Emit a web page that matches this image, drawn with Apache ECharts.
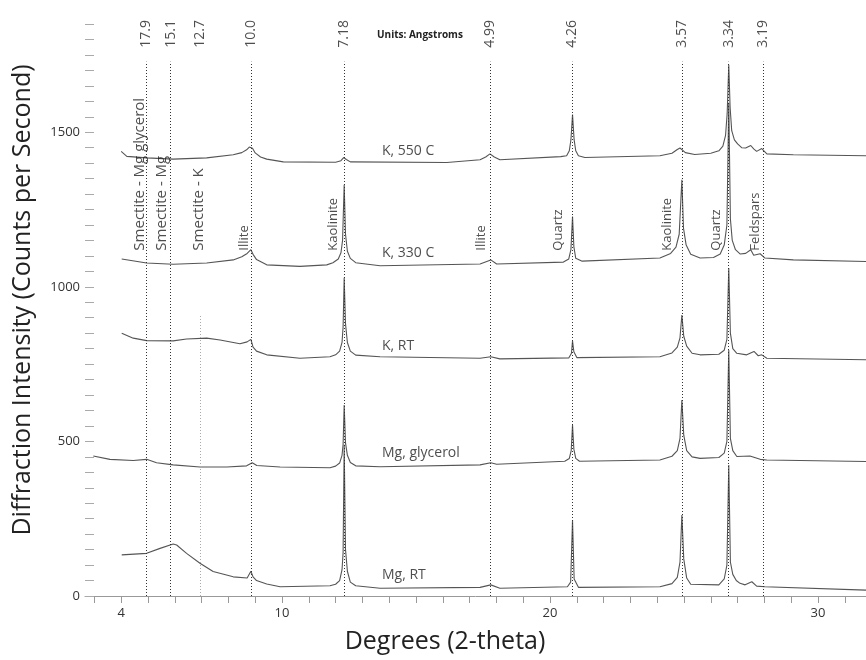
<!DOCTYPE html>
<html>
<head>
<meta charset="utf-8">
<script src="https://cdn.jsdelivr.net/npm/echarts@6/dist/echarts.min.js"></script>
<style>
  html, body { margin: 0; padding: 0; background: #fff; }
  #chart { width: 866px; height: 660px; }
</style>
</head>
<body>
<div id="chart"></div>
<script>
// X-ray diffraction patterns of an oriented clay mount under five treatments
const FONT = '"Open Sans", "DejaVu Sans", sans-serif';
const WAVELENGTH = 1.5406; // Cu K-alpha, Å

// d-spacings (Å) marked with dotted reference lines
const dSpacings = [17.9, 15.1, 12.7, 10.0, 7.18, 4.99, 4.26, 3.57, 3.34, 3.19];
const dLabels = ['17.9', '15.1', '12.7', '10.0', '7.18', '4.99', '4.26', '3.57', '3.34', '3.19'];
const lineTop = [1728, 1728, 909, 1728, 1728, 1728, 1728, 1728, 1728, 1728];
const lineFaint = [false, false, true, false, false, false, false, false, false, false];

// Mineral annotations: name and 2-theta position
const mineralNames = ['Smectite - Mg glycerol', 'Smectite - Mg', 'Smectite - K', 'Illite', 'Kaolinite',
  'Illite', 'Quartz', 'Kaolinite', 'Quartz', 'Feldspars'];
const mineralPos = [4.70, 5.52, 6.88, 8.58, 11.90, 17.43, 20.30, 24.37, 26.19, 27.65];
const mineralBase = 1117;

// Treatment names and where their captions sit
const sampleNames = ['K, 550 C', 'K, 330 C', 'K, RT', 'Mg, glycerol', 'Mg, RT'];
const sampleLabelX = 13.73;
const sampleLabelY = [1438, 1110, 807, 463, 68];

// Axis tick values
const xTickValues = [3, 4, 5, 6, 7, 8, 9, 10, 11, 12, 13, 14, 15, 16, 17, 18, 19, 20, 21, 22, 23, 24, 25, 26, 27, 28, 29, 30, 31];
const xLabelValues = [4, 10, 20, 30];
const yLabelValues = [0, 500, 1000, 1500];

// Patterns: [2-theta (deg), counts per second]
const k550 = [
  [4.00, 1438], [4.21, 1422], [4.95, 1417], [5.94, 1413], [7.19, 1417], [8.18, 1427], [8.50, 1434],
  [8.68, 1443], [8.78, 1452], [8.84, 1457], [8.90, 1448], [9.00, 1433], [9.20, 1420], [9.43, 1413],
  [10.05, 1404], [12.00, 1403], [12.20, 1408], [12.30, 1418], [12.33, 1422], [12.40, 1412], [12.55, 1404],
  [16.15, 1402], [17.39, 1411], [17.60, 1420], [17.76, 1430], [17.92, 1420], [18.13, 1411],
  [20.40, 1421], [20.62, 1424], [20.72, 1440], [20.78, 1475], [20.84, 1557], [20.90, 1475], [20.96, 1440],
  [21.06, 1424], [21.30, 1418], [24.10, 1424], [24.55, 1432], [24.75, 1444], [24.85, 1449], [24.92, 1446],
  [25.05, 1434], [25.40, 1428], [26.00, 1432], [26.30, 1440], [26.45, 1455], [26.55, 1490], [26.61, 1560],
  [26.67, 1718], [26.72, 1580], [26.78, 1505], [26.88, 1475], [27.00, 1462], [27.15, 1450], [27.30, 1449],
  [27.49, 1457], [27.60, 1446], [27.71, 1438], [27.90, 1447], [28.09, 1430], [29.08, 1427], [31.79, 1424]
];
const k330 = [
  [4.02, 1090], [4.95, 1077], [5.94, 1073], [7.19, 1077], [8.18, 1087], [8.50, 1097], [8.70, 1108],
  [8.84, 1120], [8.92, 1105], [9.05, 1088], [9.43, 1071], [10.67, 1066], [11.67, 1071], [11.90, 1078],
  [12.10, 1090], [12.20, 1110], [12.26, 1150], [12.32, 1330], [12.37, 1170], [12.44, 1115], [12.55, 1092],
  [12.75, 1078], [13.66, 1068], [17.39, 1074], [17.79, 1087], [18.01, 1074], [20.50, 1080], [20.70, 1090],
  [20.78, 1120], [20.84, 1227], [20.89, 1130], [20.96, 1092], [21.20, 1083], [24.10, 1093], [24.50, 1108],
  [24.70, 1128], [24.82, 1170], [24.92, 1346], [24.98, 1190], [25.08, 1135], [25.25, 1105], [25.60, 1093],
  [26.10, 1095], [26.35, 1106], [26.50, 1135], [26.60, 1200], [26.67, 1595], [26.73, 1220], [26.80, 1150],
  [26.92, 1120], [27.10, 1106], [27.30, 1108], [27.49, 1120], [27.60, 1102], [27.84, 1107], [28.02, 1093],
  [29.08, 1087], [31.79, 1082]
];
const kRT = [
  [4.02, 850], [4.45, 834], [4.95, 826], [5.94, 825], [6.44, 831], [7.19, 834], [7.69, 828], [8.43, 816],
  [8.70, 822], [8.84, 830], [8.92, 805], [9.05, 792], [9.43, 780], [10.67, 769], [11.79, 774], [12.00, 780],
  [12.15, 792], [12.24, 820], [12.28, 870], [12.32, 1029], [12.37, 880], [12.44, 820], [12.55, 792],
  [12.75, 779], [13.66, 774], [17.39, 769], [17.79, 774], [18.13, 767], [20.70, 770], [20.80, 785],
  [20.84, 825], [20.89, 790], [21.00, 771], [24.10, 774], [24.55, 786], [24.75, 805], [24.85, 835],
  [24.92, 909], [24.99, 840], [25.10, 808], [25.30, 785], [25.60, 780], [26.30, 782], [26.50, 795],
  [26.60, 830], [26.67, 1061], [26.73, 850], [26.82, 800], [26.97, 785], [27.34, 780], [27.61, 791],
  [27.77, 777], [27.90, 780], [28.09, 769], [31.79, 764]
];
const mgGlycerol = [
  [2.96, 453], [3.58, 442], [4.45, 438], [4.95, 442], [5.32, 431], [5.94, 424], [6.94, 417], [7.94, 417],
  [8.68, 421], [8.89, 431], [9.06, 422], [9.93, 417], [11.79, 415], [12.00, 420], [12.15, 430], [12.24, 455],
  [12.28, 490], [12.32, 618], [12.37, 495], [12.44, 455], [12.55, 432], [12.75, 421], [13.66, 418],
  [17.39, 424], [17.79, 431], [18.01, 426], [20.55, 436], [20.72, 445], [20.79, 470], [20.84, 553],
  [20.89, 475], [20.96, 445], [21.10, 436], [24.10, 440], [24.55, 452], [24.75, 470], [24.85, 510],
  [24.92, 634], [24.99, 520], [25.10, 470], [25.30, 450], [25.60, 445], [26.30, 448], [26.50, 462],
  [26.60, 500], [26.67, 796], [26.73, 510], [26.82, 470], [26.97, 451], [27.46, 453], [27.84, 442],
  [28.09, 440], [31.79, 435]
];
const mgRT = [
  [4.02, 133], [4.95, 138], [5.45, 154], [5.94, 168], [6.07, 165], [6.44, 138], [6.94, 106], [7.43, 79],
  [8.18, 62], [8.70, 58], [8.84, 80], [8.92, 62], [9.05, 50], [9.43, 39], [9.93, 30], [11.79, 33],
  [12.00, 38], [12.15, 50], [12.24, 85], [12.28, 140], [12.32, 489], [12.37, 150], [12.44, 80], [12.55, 45],
  [12.75, 33], [13.66, 25], [17.39, 28], [17.79, 36], [18.13, 25], [20.65, 30], [20.77, 45], [20.84, 246],
  [20.90, 55], [21.06, 28], [24.10, 30], [24.55, 40], [24.75, 60], [24.85, 110], [24.92, 262], [24.99, 120],
  [25.10, 58], [25.25, 38], [26.30, 36], [26.50, 55], [26.60, 100], [26.67, 424], [26.73, 110], [26.82, 70],
  [26.95, 50], [27.09, 41], [27.28, 36], [27.53, 46], [27.71, 32], [28.02, 30], [31.79, 19]
];
const patterns = [k550, k330, kRT, mgGlycerol, mgRT];

// Bragg's law: 2-theta (deg) of a reflection with spacing d
function twoTheta(d) {
  return 2 * Math.asin(WAVELENGTH / (2 * d)) * 180 / Math.PI;
}

const TEXT = '#222';
const CURVE = '#555';

const refLines = dSpacings.map((d, i) => {
  const x = twoTheta(d);
  return [
    { coord: [x, 0], lineStyle: { color: lineFaint[i] ? '#aaa' : '#333' } },
    { coord: [x, lineTop[i]] }
  ];
});

const dLabelData = dSpacings.map((d, i) => ({
  value: [twoTheta(d), 1773],
  label: { formatter: dLabels[i] }
}));

// smectite captions are set a little wider than the rest
const mineralData = mineralNames.map((n, i) => ({
  value: [mineralPos[i], mineralBase],
  label: { formatter: n, fontSize: n.indexOf('Smectite') === 0 ? 15 : 13 }
}));

const sampleData = sampleNames.map((n, i) => ({
  value: [sampleLabelX, sampleLabelY[i]],
  label: { formatter: n }
}));

const curveSeries = patterns.map((p, i) => ({
  name: sampleNames[i],
  type: 'line',
  data: p,
  showSymbol: false,
  symbol: 'none',
  silent: true,
  z: 3,
  lineStyle: { color: CURVE, width: 1.1 }
}));

const chart = echarts.init(document.getElementById('chart'), null, { renderer: 'canvas' });
chart.setOption({
  animation: false,
  backgroundColor: '#fff',
  grid: { left: 85, right: 0, top: 24, bottom: 64 },
  xAxis: {
    type: 'value',
    min: 2.65,
    max: 31.79,
    splitLine: { show: false },
    axisLine: { show: true, lineStyle: { color: '#999', width: 1 } },
    axisTick: { show: true, customValues: xTickValues, length: 7, lineStyle: { color: '#999' } },
    axisLabel: { customValues: xLabelValues, margin: 11, color: '#333', fontFamily: FONT, fontSize: 13 }
  },
  yAxis: {
    type: 'value',
    min: 0,
    max: 1850,
    interval: 50,
    splitLine: { show: false },
    axisLine: { show: false },
    axisTick: { show: true, inside: true, length: 9, lineStyle: { color: '#aaa' } },
    axisLabel: {
      margin: 5,
      color: '#333',
      fontFamily: FONT,
      fontSize: 13,
      formatter: v => (yLabelValues.indexOf(v) >= 0 ? String(v) : '')
    }
  },
  graphic: [
    {
      type: 'text', x: 23, y: 300, rotation: Math.PI / 2,
      style: {
        text: 'Diffraction Intensity (Counts per Second)', font: '25px ' + FONT, fill: TEXT,
        textAlign: 'center', textVerticalAlign: 'middle'
      }
    },
    {
      type: 'text', x: 445, y: 642,
      style: {
        text: 'Degrees (2-theta)', font: '25px ' + FONT, fill: TEXT,
        textAlign: 'center', textVerticalAlign: 'middle'
      }
    },
    {
      type: 'text', x: 377, y: 35,
      style: {
        text: 'Units: Angstroms', font: 'bold 10px ' + FONT, fill: TEXT,
        textAlign: 'left', textVerticalAlign: 'middle'
      }
    }
  ],
  series: [
    {
      name: 'reference lines',
      type: 'line',
      data: [],
      silent: true,
      z: 2,
      markLine: {
        silent: true,
        symbol: ['none', 'none'],
        label: { show: false },
        emphasis: { disabled: true },
        lineStyle: { color: '#333', width: 1, type: [1, 2] },
        data: refLines
      }
    },
    ...curveSeries,
    {
      name: 'd-spacing',
      type: 'scatter',
      symbolSize: 0,
      silent: true,
      z: 5,
      data: dLabelData,
      label: {
        show: true, position: [0, 0], rotate: 90, align: 'left', verticalAlign: 'middle',
        color: TEXT, fontFamily: FONT, fontSize: 14
      }
    },
    {
      name: 'minerals',
      type: 'scatter',
      symbolSize: 0,
      silent: true,
      z: 5,
      data: mineralData,
      label: {
        show: true, position: [0, 0], rotate: 90, align: 'left', verticalAlign: 'middle',
        color: TEXT, fontFamily: FONT, fontSize: 13
      }
    },
    {
      name: 'treatments',
      type: 'scatter',
      symbolSize: 0,
      silent: true,
      z: 5,
      data: sampleData,
      label: {
        show: true, position: [0, 0], align: 'left', verticalAlign: 'middle',
        color: TEXT, fontFamily: FONT, fontSize: 14
      }
    }
  ]
});
</script>
</body>
</html>
